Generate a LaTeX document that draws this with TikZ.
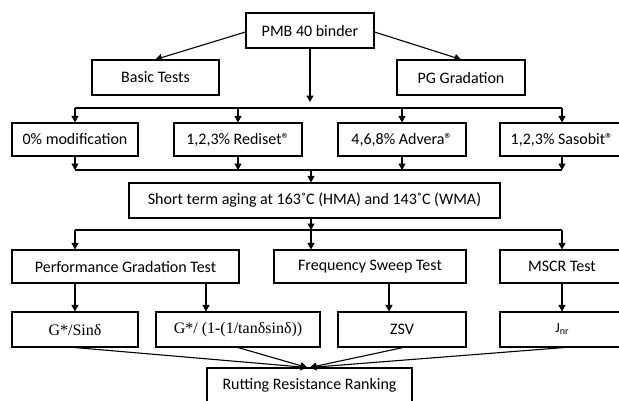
\documentclass[tikz,border=0pt]{standalone}
\usepackage{fontspec}
\setmainfont{Carlito}
\newfontfamily\tms{Liberation Serif}
\usetikzlibrary{arrows.meta}
\begin{document}
\begin{tikzpicture}[x=1pt,y=-1pt,
  box/.style={draw=black,line width=1.1pt,inner sep=0pt,font=\fontsize{16}{19}\selectfont},
  arr/.style={line width=1.1pt,-{Triangle[length=6.5pt,width=7pt]}},
  ln/.style={line width=1.1pt}]
\useasboundingbox (0,0) rectangle (619,400);
% nodes
\node[box,minimum width=128pt,minimum height=35pt] (pmb) at (310,30.5) {PMB 40 binder};
\node[box,minimum width=127pt,minimum height=35pt] (basic) at (155.5,77.5) {Basic Tests};
\node[box,minimum width=128pt,minimum height=35pt] (pg) at (461,77.5) {PG Gradation};
\node[box,minimum width=126pt,minimum height=33pt] (m0) at (75,139.5) {0\% modification};
\node[box,minimum width=128pt,minimum height=33pt] (red) at (238,139.5) {1,2,3\% Rediset®};
\node[box,minimum width=128pt,minimum height=33pt] (adv) at (402,139.5) {4,6,8\% Advera®};
\node[box,minimum width=124pt,minimum height=33pt] (sas) at (562,139.5) {1,2,3\% Sasobit®};
\node[box,minimum width=371pt,minimum height=35pt] (short) at (314.5,200.5) {Short term aging at 163˚C (HMA) and 143˚C (WMA)};
\node[box,minimum width=227pt,minimum height=33pt] (pgt) at (125.5,266.5) {Performance Gradation Test};
\node[box,minimum width=192pt,minimum height=33pt] (fst) at (370,266.5) {Frequency Sweep Test};
\node[box,minimum width=124pt,minimum height=33pt] (mscr) at (562,266.5) {MSCR Test};
\node[box,minimum width=126pt,minimum height=35pt,font=\tms\fontsize{16}{19}\selectfont] (g1) at (75,329.5) {G*/Sinδ};
\node[box,minimum width=164pt,minimum height=35pt,font=\tms\fontsize{16}{19}\selectfont] (g2) at (238,329.5) {G*/ (1-(1/tanδsinδ))};
\node[box,minimum width=128pt,minimum height=35pt] (zsv) at (402,329.5) {ZSV};
\node[box,minimum width=124pt,minimum height=35pt,font=\fontsize{14}{16}\selectfont] (jnr) at (562,329.5) {J{\fontsize{10}{11}\selectfont\raisebox{-2pt}{nr}}};
\node[box,minimum width=205pt,minimum height=34pt] (rut) at (309.5,385) {Rutting Resistance Ranking};
% junction coordinates
\coordinate (b1) at (310,108);
\coordinate (b2) at (311,170);
\coordinate (b3) at (311,230);
% top
\draw[arr] ([yshift=-1.5pt]pmb.west) -- (basic.north);
\draw[arr] ([yshift=-1.5pt]pmb.east) -- (pg.north);
\draw[arr] (pmb.south) -- ([yshift=6pt]b1);
\draw[ln] (m0.north |- b1) -- (sas.north |- b1);
\foreach \n in {m0,red,adv,sas}{\draw[arr] (\n.north |- b1) -- (\n.north);}
% row 2 to short
\foreach \n in {m0,red,adv,sas}{\draw[arr] (\n.south) -- (\n.south |- b2);}
\draw[ln] (m0.south |- b2) -- (sas.south |- b2);
\draw[arr] (b2) -- (b2 |- short.north);
% short to row 3
\draw[arr] (b3 |- short.south) -- (b3);
\draw[ln] (m0.south |- b3) -- (sas.south |- b3);
\draw[arr] (m0.south |- b3) -- (m0.south |- pgt.north);
\draw[arr] (b3) -- (b3 |- fst.north);
\draw[arr] (sas.south |- b3) -- (mscr.north);
% row 3 to row 4
\draw[arr] (g1.north |- pgt.south) -- (g1.north);
\draw[arr] ([xshift=-32pt]g2.north |- pgt.south) -- ([xshift=-32pt]g2.north);
\draw[arr] ([xshift=-13pt]zsv.north |- fst.south) -- ([xshift=-13pt]zsv.north);
\draw[arr] (jnr.north |- mscr.south) -- (jnr.north);
% converge
\draw[arr] (g1.south) -- ([xshift=-2.5pt]rut.north);
\draw[arr] (g2.south) -- ([xshift=-2.5pt]rut.north);
\draw[arr] ([xshift=1pt]zsv.south) -- ([xshift=0.5pt]rut.north);
\draw[arr] ([xshift=2pt]jnr.south) -- ([xshift=0.5pt]rut.north);
\end{tikzpicture}
\end{document}
